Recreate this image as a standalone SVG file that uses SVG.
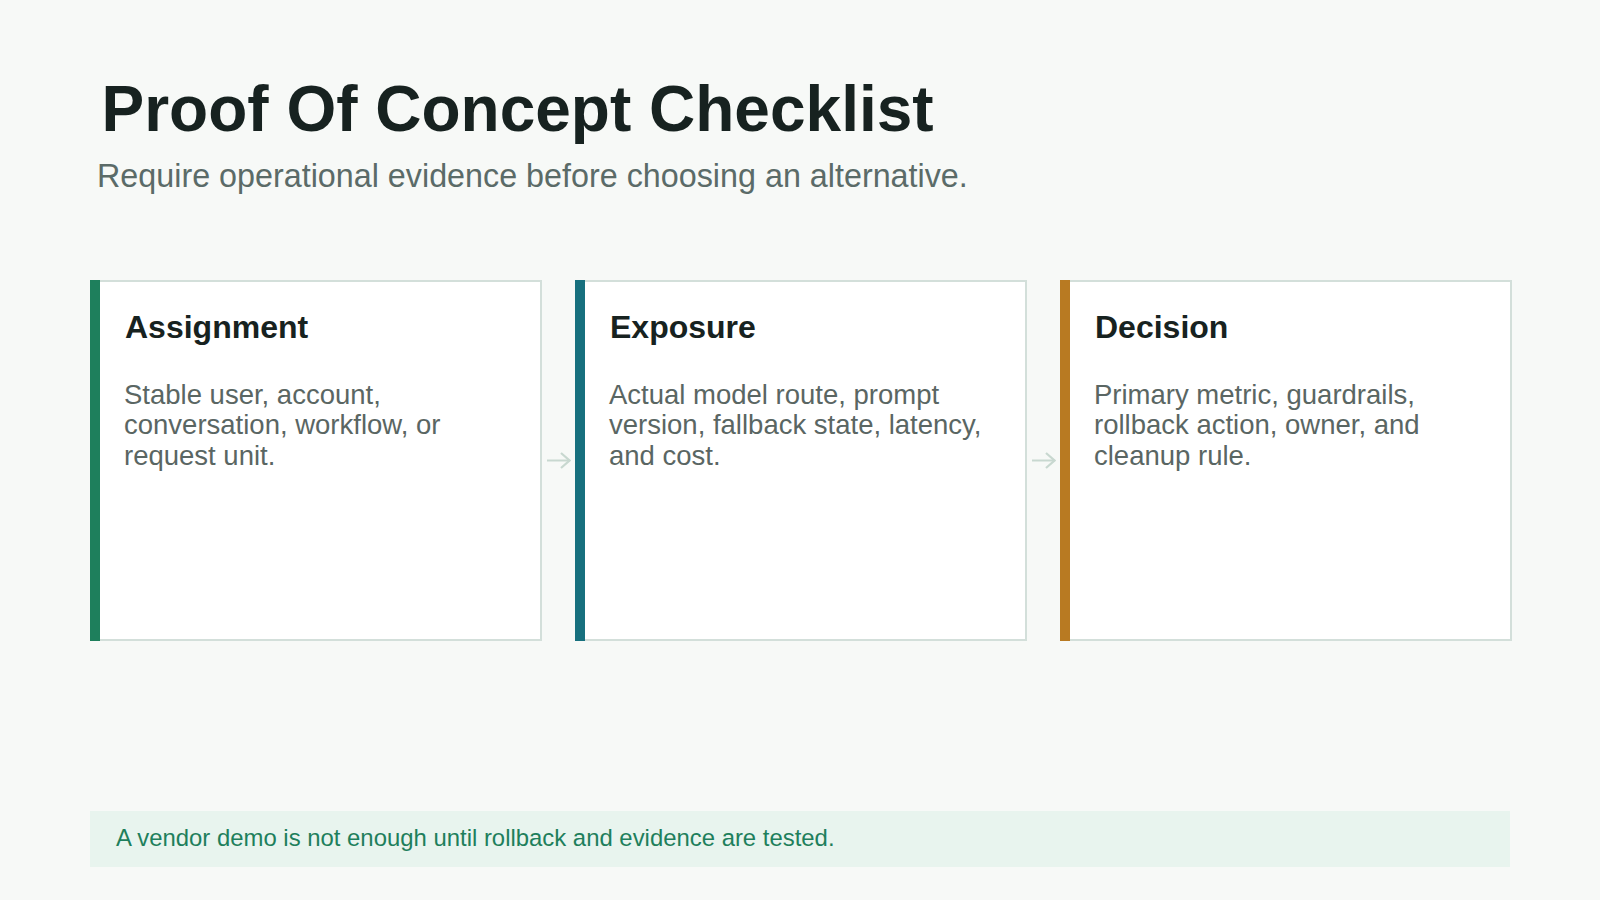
<svg xmlns="http://www.w3.org/2000/svg" width="1600" height="900" viewBox="0 0 1600 900">
  <defs>
    <style>
      .title { font-family: "Liberation Sans", Arial, sans-serif; font-weight: 700; font-size: 64px; fill: #172220; }
      .subtitle { font-family: "Liberation Sans", Arial, sans-serif; font-size: 32.3px; fill: #5b6b68; }
      .card { fill: #ffffff; stroke: #d3dfda; stroke-width: 2; }
      .head { font-family: "Liberation Sans", Arial, sans-serif; font-weight: 700; font-size: 32px; fill: #172220; }
      .body { font-family: "Liberation Sans", Arial, sans-serif; font-size: 27.5px; fill: #5a6663; }
      .conn { fill: none; stroke: #c8d8d0; stroke-width: 2; }
      .note { font-family: "Liberation Sans", Arial, sans-serif; font-size: 23.9px; fill: #1e7f5c; }
    </style>
    <marker id="arrow" viewBox="0 0 12 18" refX="11" refY="9" markerWidth="12" markerHeight="18" markerUnits="userSpaceOnUse" orient="auto">
      <path d="M2,1.5 L10.5,9 L2,16.5" fill="none" stroke="#c8d8d0" stroke-width="2.2"/>
    </marker>
  </defs>
  <rect x="0" y="0" width="1600" height="900" fill="#f7f9f7"/>

  <g id="header">
    <text class="title" x="101.5" y="131">Proof Of Concept Checklist</text>
    <text class="subtitle" x="97" y="186.5">Require operational evidence before choosing an alternative.</text>
  </g>

  <g id="node-assignment">
    <rect class="card" x="91" y="281" width="450" height="359"/>
    <rect x="90" y="280" width="10" height="361" fill="#1e7f5c"/>
    <text class="head" x="125" y="338">Assignment</text>
    <text class="body" x="124" y="403.5">Stable user, account,</text>
    <text class="body" x="124" y="434">conversation, workflow, or</text>
    <text class="body" x="124" y="464.5">request unit.</text>
  </g>

  <g id="node-exposure">
    <rect class="card" x="576" y="281" width="450" height="359"/>
    <rect x="575" y="280" width="10" height="361" fill="#17707e"/>
    <text class="head" x="610" y="338">Exposure</text>
    <text class="body" x="609" y="403.5">Actual model route, prompt</text>
    <text class="body" x="609" y="434">version, fallback state, latency,</text>
    <text class="body" x="609" y="464.5">and cost.</text>
  </g>

  <g id="node-decision">
    <rect class="card" x="1061" y="281" width="450" height="359"/>
    <rect x="1060" y="280" width="10" height="361" fill="#b87a22"/>
    <text class="head" x="1095" y="338">Decision</text>
    <text class="body" x="1094" y="403.5">Primary metric, guardrails,</text>
    <text class="body" x="1094" y="434">rollback action, owner, and</text>
    <text class="body" x="1094" y="464.5">cleanup rule.</text>
  </g>

  <g id="connectors">
    <line class="conn" x1="547" y1="460.5" x2="570" y2="460.5" marker-end="url(#arrow)"/>
    <line class="conn" x1="1032" y1="460.5" x2="1055" y2="460.5" marker-end="url(#arrow)"/>
  </g>

  <g id="note">
    <rect x="90" y="811" width="1420" height="56" fill="#e8f4ee"/>
    <text class="note" x="116" y="846">A vendor demo is not enough until rollback and evidence are tested.</text>
  </g>
</svg>
